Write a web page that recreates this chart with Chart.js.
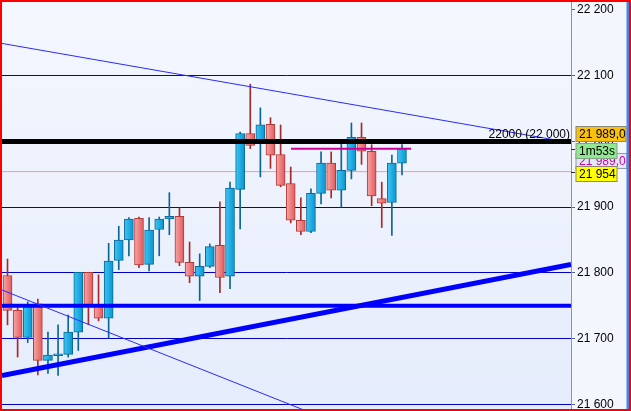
<!DOCTYPE html>
<html>
<head>
<meta charset="utf-8">
<script src="https://cdn.jsdelivr.net/npm/chart.js@4.4.1/dist/chart.umd.min.js"></script>
<style>
html, body { margin: 0; padding: 0; background: #f3f6fc; }
canvas { display: block; }
</style>
</head>
<body>
<canvas id="c" width="631" height="411" style="width:631px;height:411px"></canvas>
<script>
// candle values (oldest first, first one is cut by the left edge)
const opens  = [21805, 21796, 21743, 21702, 21753, 21667, 21674, 21676, 21710, 21801, 21750, 21731, 21819, 21850, 21883, 21813, 21866, 21882, 21886, 21816, 21795, 21810, 21842, 21795, 21927, 22012, 21998, 22026, 21980, 21936, 21880, 21863, 21921, 21967, 21926, 21956, 22006, 21985, 21913, 21907, 21967];
const highs  = [21812, 21821, 21747, 21756, 21760, 21710, 21721, 21736, 21801, 21801, 21797, 21845, 21871, 21884, 21885, 21884, 21885, 21922, 21899, 21847, 21829, 21844, 21908, 21938, 22014, 22087, 22051, 22036, 22025, 21961, 21914, 21928, 21984, 21984, 22001, 22028, 22028, 21995, 21938, 21979, 21995];
const lows   = [21790, 21721, 21672, 21694, 21645, 21647, 21644, 21672, 21682, 21721, 21727, 21701, 21805, 21826, 21808, 21803, 21826, 21858, 21811, 21785, 21758, 21808, 21770, 21776, 21867, 21989, 21946, 21959, 21931, 21876, 21858, 21861, 21905, 21914, 21900, 21943, 21965, 21902, 21869, 21857, 21949];
const closes = [21796, 21743, 21702, 21750, 21667, 21675, 21677, 21710, 21801, 21750, 21731, 21818, 21850, 21882, 21812, 21865, 21882, 21886, 21816, 21795, 21810, 21840, 21793, 21929, 22012, 21994, 22025, 21979, 21933, 21880, 21863, 21921, 21967, 21926, 21956, 22006, 21985, 21917, 21906, 21967, 21989];
const bars = opens.map((_, i) => i);

// drawn lines: [barIndex, price] end points
const trendUpper   = [[0.456, 22149], [56.71, 21998]];
const trendLower   = [[0.456, 21774], [56.71, 21430]];
const trendSupport = [[0.456, 21644], [56.71, 21813]];
const levelBlack   = 22000;
const levelSupport = 21750;
const levelBid     = 21954;
const levelLast    = 21989;
const lastSpan     = [29.03, 40.9];
const gridLevels   = [22100, 21900, 21800, 21700, 21600];
const yTicks       = { min: 21593, max: 22212, step: 100 };
const timerText    = '1m53s';

const xMin = 0.456, xMax = 56.71;
const FONT = '"Liberation Sans", Arial, sans-serif';

const fmt = v => String(v).replace(/\B(?=(\d{3})+(?!\d))/g, ' ');
const isUp = i => closes[i] >= opens[i];

function bodyFill(ctx) {
  const chart = ctx.chart;
  const i = ctx.dataIndex;
  const up = isUp(i);
  if (!chart.chartArea || !chart.scales.x) return up ? '#14a8e0' : '#f07c7c';
  const x = chart.scales.x.getPixelForValue(i);
  const g = chart.ctx.createLinearGradient(x - 4.5, 0, x + 4.5, 0);
  if (up) { g.addColorStop(0, '#3cc6f4'); g.addColorStop(1, '#0a94d0'); }
  else { g.addColorStop(0, '#f8a6a6'); g.addColorStop(1, '#e25a5a'); }
  return g;
}

const pts = arr => arr.map(p => ({ x: p[0], y: p[1] }));
const flat = v => [{ x: xMin, y: v }, { x: xMax, y: v }];
const lineDs = (data, color, width, order) => ({
  type: 'line', data, borderColor: color, borderWidth: width,
  pointRadius: 0, fill: false, tension: 0, order
});

const chartDecor = {
  id: 'chartDecor',
  beforeDraw(chart) {
    const { ctx, chartArea: a } = chart;
    ctx.save();
    ctx.fillStyle = '#f3f6fc';
    ctx.fillRect(0, 0, chart.width, chart.height);
    const g = ctx.createLinearGradient(0, a.top, 0, a.bottom);
    g.addColorStop(0, '#f4f7fe');
    g.addColorStop(1, '#e5ecfb');
    ctx.fillStyle = g;
    ctx.fillRect(a.left, a.top, a.right - a.left, a.bottom - a.top);
    ctx.restore();
  },
  afterDraw(chart) {
    const { ctx, chartArea: a } = chart;
    const y = chart.scales.y;
    ctx.save();
    ctx.font = '12px ' + FONT;
    ctx.textBaseline = 'middle';

    // level caption
    ctx.fillStyle = '#000';
    ctx.textAlign = 'right';
    ctx.fillText(levelBlack + ' (' + fmt(levelBlack) + ')', a.right - 1, y.getPixelForValue(levelBlack) - 7);

    // axis tick marks for the price labels
    ctx.strokeStyle = '#2a2a2a';
    ctx.lineWidth = 1;
    [levelLast, levelBid].forEach(v => {
      const py = Math.round(y.getPixelForValue(v)) + 0.5;
      ctx.beginPath(); ctx.moveTo(a.right, py); ctx.lineTo(a.right + 4, py); ctx.stroke();
    });

    const box = (cy, w, bg, border, text, color) => {
      const x0 = a.right + 5, h = 15;
      const top = Math.round(cy - h / 2) + 0.5;
      ctx.fillStyle = bg;
      ctx.fillRect(x0, top, w, h);
      ctx.strokeStyle = border;
      ctx.strokeRect(x0, top, w, h);
      ctx.fillStyle = color;
      ctx.textAlign = 'left';
      ctx.fillText(text, x0 + 3, top + h / 2 + 0.5);
    };
    const pl = y.getPixelForValue(levelLast);
    const pb = y.getPixelForValue(levelBid);
    box(pl - 15, 50, '#f9c010', '#8a8a7a', fmt(levelLast) + ',0', '#000');
    box(pl + 11.5, 51, '#e2e7f4', '#8e9ab0', fmt(levelLast) + ',0', '#d000b0');
    box(pl + 1.5, 41, '#90e890', '#8aa08a', timerText, '#000');
    box(pb + 2, 41, '#ffff00', '#8a8a6a', fmt(levelBid), '#000');

    // right strip and outer border
    ctx.fillStyle = '#4c82e6';
    ctx.fillRect(chart.width - 4.5, 0, 2.5, chart.height);
    ctx.strokeStyle = '#ff0000';
    ctx.lineWidth = 2;
    ctx.strokeRect(1, 1, chart.width - 2, chart.height - 2);
    ctx.restore();
  }
};

new Chart(document.getElementById('c').getContext('2d'), {
  type: 'bar',
  data: {
    datasets: [
      lineDs(flat(levelBid), '#ff9494', 1, 10),
      {
        data: bars.map(i => ({ x: i, y: [lows[i], highs[i]] })),
        backgroundColor: bars.map(i => isUp(i) ? '#0a6696' : '#a82828'),
        borderWidth: 0, barThickness: 1, grouped: false, order: 6
      },
      {
        data: bars.map(i => ({ x: i, y: [opens[i], closes[i]] })),
        backgroundColor: bodyFill,
        borderColor: bars.map(i => isUp(i) ? '#0a6a9a' : '#b03a3a'),
        borderWidth: 1, borderSkipped: false, barThickness: 9, grouped: false, order: 5
      },
      lineDs(pts(trendUpper), '#2a2aff', 1, 2),
      lineDs(pts(trendLower), '#2a2aff', 1, 2),
      lineDs(flat(levelSupport), '#0000ff', 4, 2),
      lineDs(pts(trendSupport), '#0000ff', 5, 2),
      lineDs(flat(levelBlack), '#000000', 5, 1),
      lineDs([{ x: lastSpan[0], y: levelLast }, { x: lastSpan[1], y: levelLast }], '#cc0099', 2, 0)
    ]
  },
  options: {
    responsive: false,
    animation: false,
    events: [],
    layout: { padding: { left: 2, right: 2, top: 2, bottom: 2 } },
    plugins: { legend: { display: false }, tooltip: { enabled: false } },
    scales: {
      x: {
        type: 'linear', display: false, min: xMin, max: xMax,
        offset: false, grid: { offset: false }
      },
      y: {
        position: 'right',
        min: yTicks.min, max: yTicks.max,
        afterFit: s => { s.width = 58; s.paddingTop = 0; s.paddingBottom = 0; },
        border: { display: true, color: '#8796a6', width: 1 },
        grid: {
          color: c => gridLevels.includes(c.tick && c.tick.value) ? '#0000c8' : 'rgba(0,0,0,0)',
          tickColor: '#5a6470', tickLength: 4, lineWidth: 1
        },
        ticks: {
          stepSize: yTicks.step, includeBounds: false, color: '#000', padding: 2,
          font: { family: FONT, size: 12 },
          callback: v => fmt(v)
        }
      }
    }
  },
  plugins: [chartDecor]
});
</script>
</body>
</html>
